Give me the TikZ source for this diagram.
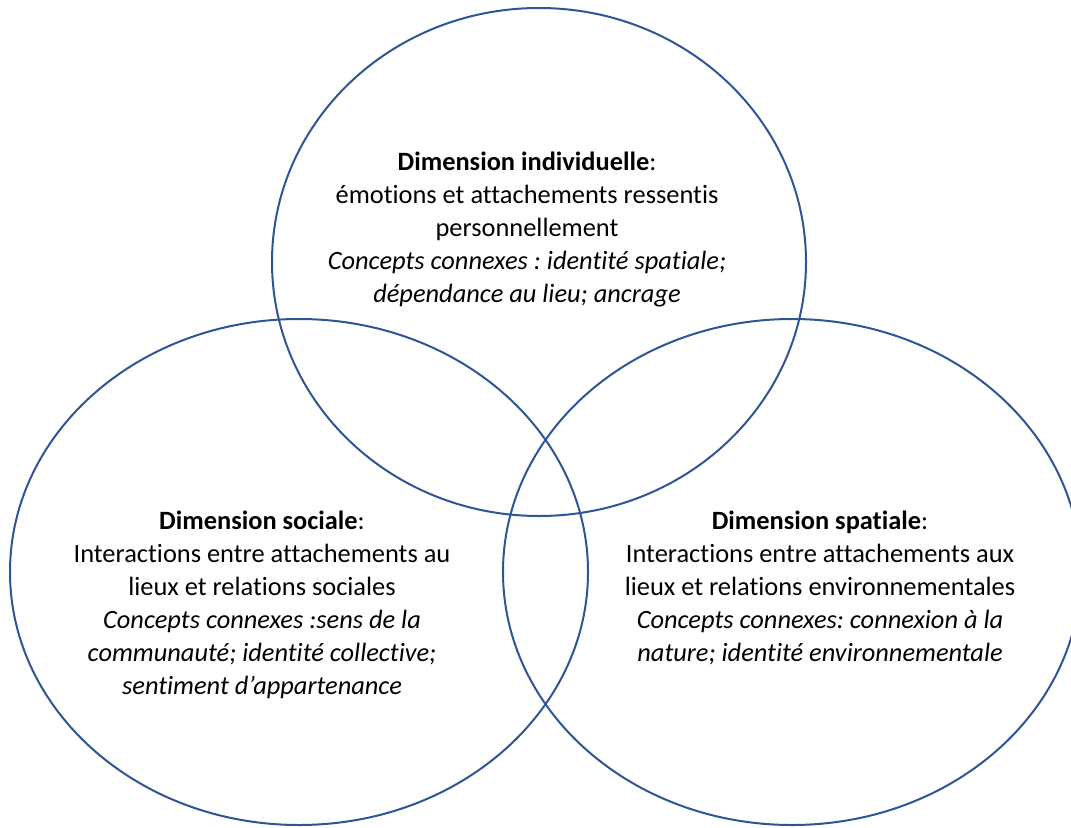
\documentclass[tikz,border=0pt]{standalone}
\usepackage{fontspec}
\setmainfont{Carlito}[Ligatures=NoCommon]
\frenchspacing
\usetikzlibrary{shapes.geometric}
\definecolor{ringblue}{HTML}{2F5597}
\tikzset{
    ring/.style={ellipse, draw=ringblue, line width=1.5pt, inner sep=0pt}, % the three circles
    dimtext/.style={align=center, font=\fontsize{19.8}{24.75}\selectfont}, % text in each circle
}

\begin{document}
\begin{tikzpicture}[x=0.75pt,y=-0.75pt]
  \useasboundingbox (0,0) rectangle (1071,828);
  \clip (0,0) rectangle (1071,828);

  % the three dimensions
  \node[ring, minimum width=400.5pt, minimum height=381pt] (indiv) at (539,262) {};
  \node[ring, minimum width=433.5pt, minimum height=379.5pt] (social) at (299,572) {};
  \node[ring, minimum width=433.5pt, minimum height=379.5pt] (spatial) at (792,572) {};

  \node[dimtext] (t_indiv) at (527,229) {\textbf{Dimension individuelle}:\\
    émotions et attachements ressentis\\
    personnellement\\
    \textit{Concepts connexes : identité spatiale;}\\
    \textit{dépendance au lieu; ancrage}};
  \node[dimtext] (t_social) at (262,605) {\textbf{Dimension sociale}:\\
    Interactions entre attachements au\\
    lieux et relations sociales\\
    \textit{Concepts connexes :sens de la}\\
    \textit{communauté; identité collective;}\\
    \textit{sentiment d’appartenance}};
  \node[dimtext] (t_spatial) at (820,588) {\textbf{Dimension spatiale}:\\
    Interactions entre attachements aux\\
    lieux et relations environnementales\\
    \textit{Concepts connexes: connexion à la}\\
    \textit{nature; identité environnementale}};
\end{tikzpicture}
\end{document}
